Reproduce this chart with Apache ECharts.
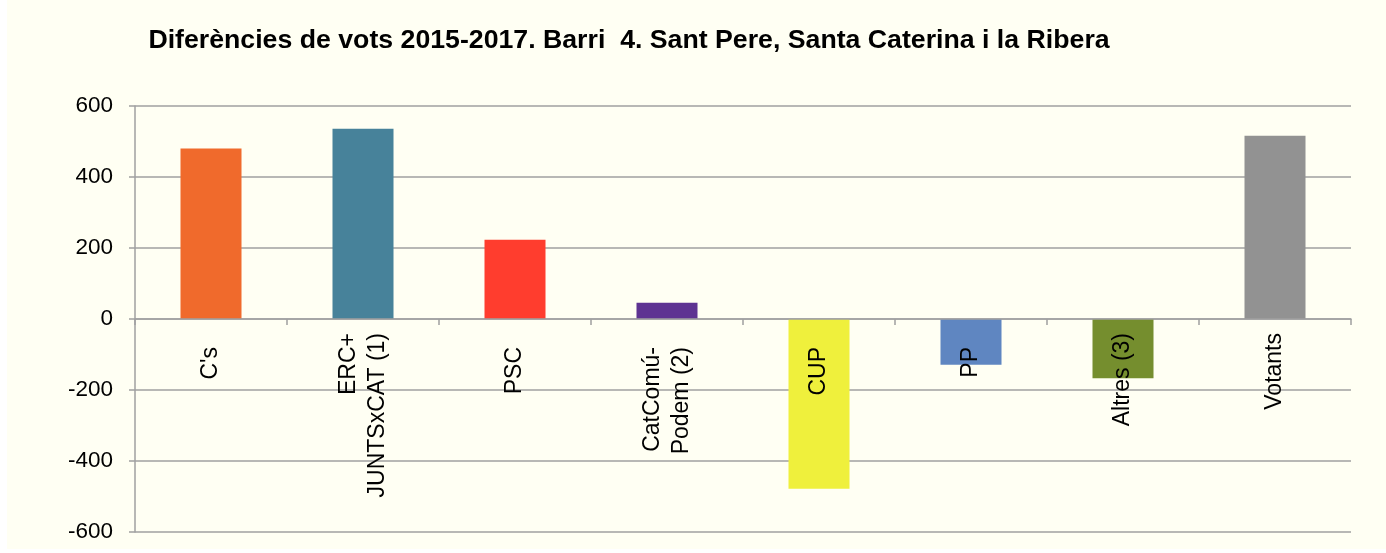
<!DOCTYPE html>
<html>
<head>
<meta charset="utf-8">
<script src="https://cdn.jsdelivr.net/npm/echarts@6/dist/echarts.min.js"></script>
<style>
  html, body { margin: 0; padding: 0; background: #ffffff; }
  #chart { position: absolute; left: 7px; top: 0; width: 1379px; height: 549px; background: #fffff3; }
</style>
</head>
<body>
<div id="chart"></div>
<script>
// categories and values (difference of votes 2015-2017)
var categories = ["C's", 'ERC+\nJUNTSxCAT (1)', 'PSC', 'CatComú-\nPodem (2)', 'CUP', 'PP', 'Altres (3)', 'Votants'];
var values = [480, 536, 223, 46, -478, -129, -167, 516];
var colors = ['#f06a2c', '#47829a', '#ff3d2e', '#5e3392', '#eff03c', '#5f86c1', '#758e2e', '#929292'];
var yTicks = [-600, -400, -200, 0, 200, 400, 600];
// short labels start a bit lower under the axis in the original
var shortLabels = ["C's", 'PSC', 'CatComú-\nPodem (2)', 'CUP', 'PP'];

var chart = echarts.init(document.getElementById('chart'));

var gridTop = 106, gridBottom = 17;
var plotH = 549 - gridTop - gridBottom;

var option = {
    animation: false,
    title: {
        text: 'Diferències de vots 2015-2017. Barri  4. Sant Pere, Santa Caterina i la Ribera',
        left: 617,
        top: 22,
        textAlign: 'center',
        textStyle: {
            fontFamily: 'Liberation Sans, Arial, sans-serif',
            fontSize: 26.7,
            fontWeight: 'bold',
            color: '#000'
        }
    },
    grid: {
        left: 128,
        right: 35,
        top: gridTop,
        bottom: gridBottom,
        outerBoundsMode: 'none',
        containLabel: false
    },
    xAxis: {
        type: 'category',
        z: 10,
        data: categories.map(function (c) {
            if (shortLabels.indexOf(c) >= 0) {
                return { value: c, textStyle: { padding: [0, 14, 0, 0] } };
            }
            return c;
        }),
        position: 'bottom',
        // put the category axis (line + labels) on the zero line
        offset: -plotH / 2,
        axisLine: { onZero: false, lineStyle: { color: '#a0a0a0', width: 1.5 } },
        axisTick: { show: true, length: 6, lineStyle: { color: '#a0a0a0', width: 1.5 } },
        axisLabel: {
            rotate: 90,
            margin: 14,
            fontFamily: 'Liberation Sans, Arial, sans-serif',
            fontSize: 23,
            color: '#000',
            lineHeight: 29,
            interval: 0
        }
    },
    yAxis: {
        type: 'value',
        min: -600,
        max: 600,
        interval: 200,
        axisLine: { show: true, lineStyle: { color: '#a0a0a0', width: 1.5 } },
        axisTick: { show: true, length: 6, lineStyle: { color: '#a0a0a0', width: 1.5 } },
        splitLine: { lineStyle: { color: '#a0a0a0', width: 1.5 } },
        axisLabel: {
            margin: 22,
            fontFamily: 'Liberation Sans, Arial, sans-serif',
            fontSize: 22.5,
            color: '#000',
            formatter: function (v) { return yTicks.indexOf(v) >= 0 ? String(v) : ''; }
        }
    },
    series: [
        {
            type: 'bar',
            barWidth: 61,
            data: values.map(function (v, i) {
                return { value: v, itemStyle: { color: colors[i] } };
            })
        }
    ]
};

chart.setOption(option);
</script>
</body>
</html>
